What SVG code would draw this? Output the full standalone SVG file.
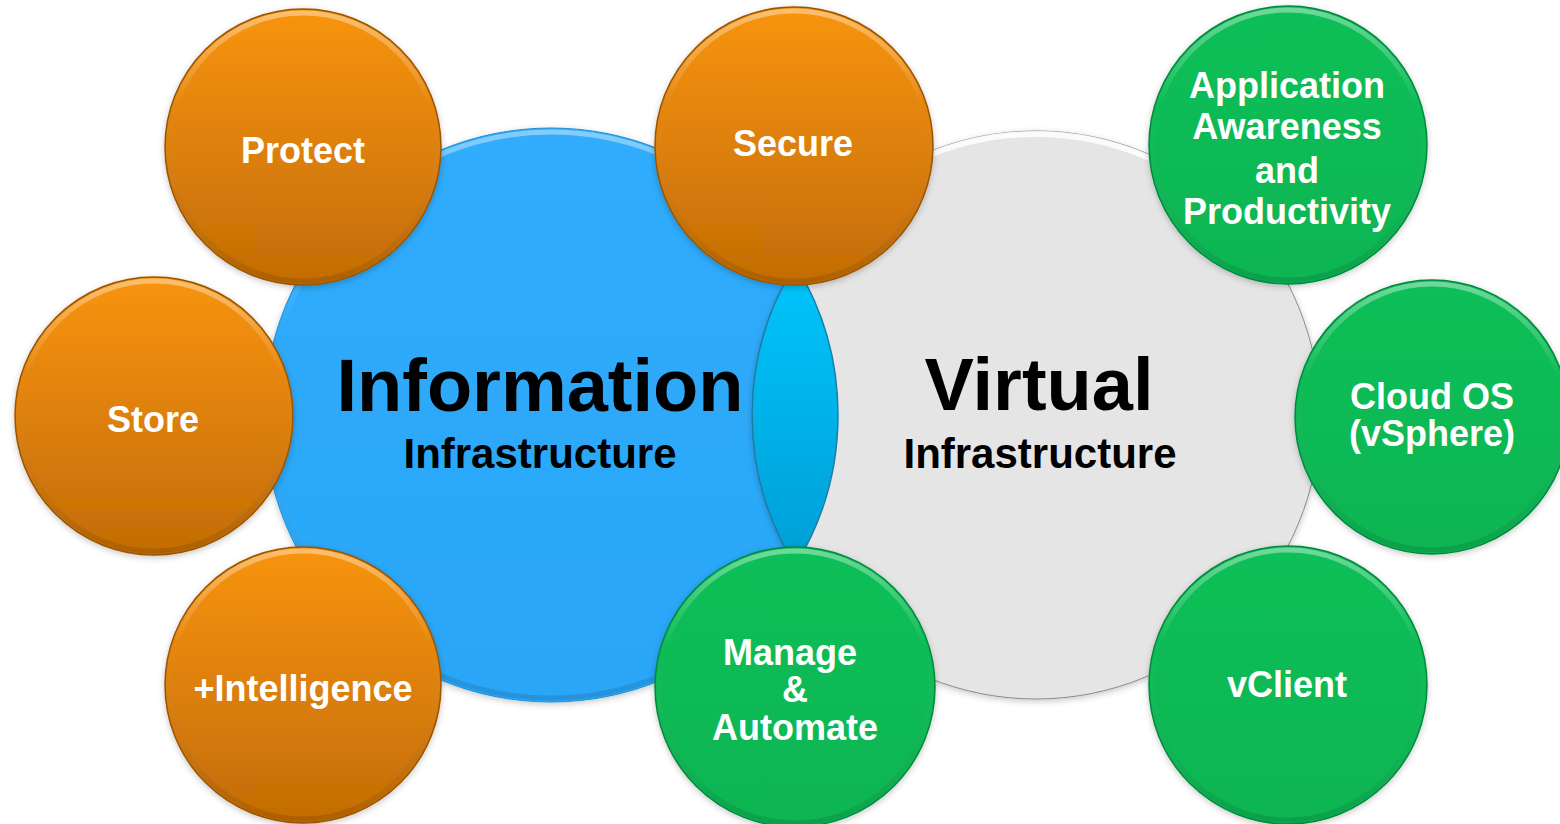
<svg xmlns="http://www.w3.org/2000/svg" width="1560" height="824" viewBox="0 0 1560 824">
<defs>
  <linearGradient id="gOrange" x1="0" y1="0" x2="0" y2="1">
    <stop offset="0" stop-color="#F8940A"/>
    <stop offset="1" stop-color="#C26C06"/>
  </linearGradient>
  <linearGradient id="gGreen" x1="0" y1="0" x2="0" y2="1">
    <stop offset="0" stop-color="#0ABF58"/>
    <stop offset="1" stop-color="#07B552"/>
  </linearGradient>
  <linearGradient id="gBlue" x1="0" y1="0" x2="0" y2="1">
    <stop offset="0" stop-color="#30ACFC"/>
    <stop offset="1" stop-color="#2AA6F8"/>
  </linearGradient>
  <linearGradient id="gLens" x1="0" y1="0" x2="0" y2="1">
    <stop offset="0" stop-color="#00C6FC"/>
    <stop offset="1" stop-color="#009ED6"/>
  </linearGradient>
  <linearGradient id="gRim" x1="0" y1="0" x2="0" y2="1">
    <stop offset="0" stop-color="#FFFFFF" stop-opacity="0.4"/>
    <stop offset="0.35" stop-color="#FFFFFF" stop-opacity="0"/>
    <stop offset="1" stop-color="#000000" stop-opacity="0.12"/>
  </linearGradient>
  <filter id="shadow" x="-10%" y="-10%" width="120%" height="120%">
    <feDropShadow dx="0" dy="2" stdDeviation="3" flood-color="#000" flood-opacity="0.22"/>
  </filter>
</defs>
<style>
  .lbl { font-family: "Liberation Sans", Arial, sans-serif; font-weight: bold; fill: #FFFFFF; font-size: 36px; text-anchor: middle; }
  .big { font-family: "Liberation Sans", Arial, sans-serif; font-weight: bold; fill: #000000; font-size: 74px; text-anchor: middle; }
  .sub { font-family: "Liberation Sans", Arial, sans-serif; font-weight: bold; fill: #000000; font-size: 42px; text-anchor: middle; }
  .orange { fill: url(#gOrange); stroke: #9A5404; stroke-width: 1.5; filter: url(#shadow); }
  .green { fill: url(#gGreen); stroke: #068A3E; stroke-width: 1.5; filter: url(#shadow); }
  .rim { fill: none; stroke: url(#gRim); stroke-width: 5; }
</style>

<g id="information">
  <circle cx="551" cy="415" r="287" fill="url(#gBlue)" stroke="#1E8ED6" stroke-width="1" filter="url(#shadow)"/>
  <circle cx="551" cy="415" r="283" class="rim"/>
  <text class="big" x="540" y="411">Information</text>
  <text class="sub" x="540" y="468">Infrastructure</text>
</g>

<g id="virtual">
  <circle cx="1036" cy="415" r="284" fill="#E5E5E5" stroke="#8A8A8A" stroke-width="1" filter="url(#shadow)"/>
  <path d="M 836 218 A 280 280 0 0 1 1236 218" fill="none" stroke="#FFFFFF" stroke-opacity="0.85" stroke-width="6"/>
  <text class="big" x="1039" y="410">Virtual</text>
  <text class="sub" x="1040" y="468">Infrastructure</text>
</g>

<g id="overlap">
  <path d="M 795.3 264.4 A 287 287 0 0 1 795.3 565.6 A 284 284 0 0 1 795.3 264.4 Z" fill="url(#gLens)" stroke="#1B7DA6" stroke-width="1.5"/>
</g>

<g id="connectors"></g>

<g id="protect">
  <circle cx="303" cy="147" r="138" class="orange"/>
  <circle cx="303" cy="147" r="134" class="rim"/>
  <text class="lbl" x="303" y="163">Protect</text>
</g>

<g id="store">
  <circle cx="154" cy="416" r="139" class="orange"/>
  <circle cx="154" cy="416" r="135" class="rim"/>
  <text class="lbl" x="153" y="432">Store</text>
</g>

<g id="intelligence">
  <circle cx="303" cy="685" r="138" class="orange"/>
  <circle cx="303" cy="685" r="134" class="rim"/>
  <text class="lbl" x="303" y="701">+Intelligence</text>
</g>

<g id="secure">
  <circle cx="794" cy="146" r="139" class="orange"/>
  <circle cx="794" cy="146" r="135" class="rim"/>
  <text class="lbl" x="793" y="156">Secure</text>
</g>

<g id="manage">
  <circle cx="795" cy="687" r="140" class="green"/>
  <circle cx="795" cy="687" r="136" class="rim"/>
  <text class="lbl" x="790" y="665">Manage</text>
  <text class="lbl" x="795" y="702">&amp;</text>
  <text class="lbl" x="795" y="740">Automate</text>
</g>

<g id="application">
  <circle cx="1288" cy="145" r="139" class="green"/>
  <circle cx="1288" cy="145" r="135" class="rim"/>
  <text class="lbl" x="1287" y="98">Application</text>
  <text class="lbl" x="1287" y="139">Awareness</text>
  <text class="lbl" x="1287" y="183">and</text>
  <text class="lbl" x="1287" y="224">Productivity</text>
</g>

<g id="cloudos">
  <circle cx="1432" cy="417" r="137" class="green"/>
  <circle cx="1432" cy="417" r="133" class="rim"/>
  <text class="lbl" x="1432" y="409">Cloud OS</text>
  <text class="lbl" x="1432" y="446">(vSphere)</text>
</g>

<g id="vclient">
  <circle cx="1288" cy="685" r="139" class="green"/>
  <circle cx="1288" cy="685" r="135" class="rim"/>
  <text class="lbl" x="1287" y="697">vClient</text>
</g>
</svg>
